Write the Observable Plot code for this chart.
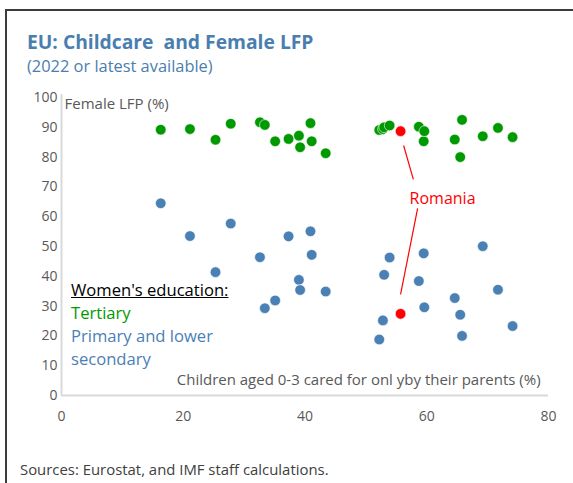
<!DOCTYPE html>
<html>
<head>
<meta charset="utf-8">
<script src="https://cdn.jsdelivr.net/npm/d3@7"></script>
<script src="https://cdn.jsdelivr.net/npm/@observablehq/plot@0.6"></script>
<style>
  body { margin: 0; background: #fff; }
  #frame { position: relative; width: 573px; height: 483px; overflow: hidden; background: #fff;
           font-family: "Open Sans", "Noto Sans", sans-serif; }
  .bt { position: absolute; left: 5px; top: 9px; right: 0; height: 2px; background: #3c3c3c; }
  .bl { position: absolute; left: 5px; top: 9px; bottom: 0; width: 2px; background: #3c3c3c; }
  #title { position: absolute; left: 27px; top: 30px; font-weight: bold; font-size: 19.3px; line-height: 24px;
           color: #4a7eb0; white-space: pre; }
  #subtitle { position: absolute; left: 27px; top: 55px; font-size: 16.4px; line-height: 22px; color: #4a7eb0; }
  #chart { position: absolute; left: 0; top: 80px; }
  #legend { position: absolute; left: 71px; top: 278px; font-size: 16.6px; line-height: 23px; }
  #legend .h { color: #000; text-decoration: underline; }
  #caption { position: absolute; left: 20px; top: 459px; font-size: 14.9px; line-height: 20px; color: #404040; }
</style>
</head>
<body>
<div id="frame">
  <div class="bt"></div><div class="bl"></div>
  <div id="title">EU: Childcare  and Female LFP</div>
  <div id="subtitle">(2022 or latest available)</div>
  <div id="chart"></div>
  <div id="legend"></div>
  <div id="caption">Sources: Eurostat, and IMF staff calculations.</div>
</div>
<script>
// ---- data ----
const childcare = [16.3, 21.1, 25.3, 27.8, 32.6, 33.4, 35.1, 37.3, 39.0, 39.2, 40.9, 41.1, 43.4,
                   52.2, 52.8, 53.0, 53.9, 55.7, 58.7, 59.5, 59.6, 64.6, 65.5, 65.8, 69.2, 71.7, 74.1];
const lfpTertiary = [89.2, 89.4, 85.8, 91.2, 91.7, 90.8, 85.3, 86.1, 87.2, 83.3, 91.4, 85.3, 81.3,
                     89.1, 89.4, 90.0, 90.6, 88.7, 90.2, 85.3, 88.7, 85.9, 80.0, 92.5, 87.0, 89.8, 86.7];
const lfpPrimary = [64.5, 53.5, 41.4, 57.7, 46.4, 29.3, 31.9, 53.4, 38.8, 35.4, 55.1, 47.2, 34.9,
                    18.8, 25.2, 40.5, 46.3, 27.4, 38.4, 47.7, 29.6, 32.7, 27.1, 20.0, 50.1, 35.5, 23.3];
const highlightIndex = 17;           // Romania
const highlightName = "Romania";
const xTicks = [0, 20, 40, 60, 80];
const yTicks = [0, 10, 20, 30, 40, 50, 60, 70, 80, 90, 100];
const legendHeader = "Women's education:";
const seriesNames = ["Tertiary", "Primary and lower\nsecondary"];
const xLabel = "Children aged 0-3 cared for onl yby their parents (%)";
const yLabel = "Female LFP (%)";
// callout placement (data units)
const calloutLabel = {x: 62.6, y: 66.1};
const calloutLines = [
  {x1: 56.2, y1: 83.9, x2: 57.8, y2: 72.5},
  {x1: 58.5, y1: 62.8, x2: 55.7, y2: 33.9}
];

const GREEN = "#009900", BLUE = "#4a80b4", RED = "#ff0000", GREY = "#595959";

const rows = childcare.map((x, i) => ({x, tert: lfpTertiary[i], prim: lfpPrimary[i], hi: i === highlightIndex}));
const normal = rows.filter(d => !d.hi);
const hi = rows.filter(d => d.hi);

const plot = Plot.plot({
  width: 573, height: 360,
  marginLeft: 61, marginRight: 25, marginTop: 17, marginBottom: 45,
  x: {domain: [0, 80]},
  y: {domain: [0, 100]},
  style: {fontFamily: '"Open Sans", "Noto Sans", sans-serif', fontSize: "14px", color: GREY, background: "transparent", overflow: "visible"},
  marks: [
    Plot.ruleY([0], {stroke: "#d9d9d9", strokeWidth: 2}),
    Plot.ruleX([0], {y1: 0, y2: 101, stroke: "#d9d9d9", strokeWidth: 2}),
    Plot.axisY({ticks: yTicks, tickSize: 0, tickPadding: 4, label: null, fontSize: 14}),
    Plot.axisX({ticks: xTicks, tickSize: 0, tickPadding: 16, label: null, fontSize: 14}),
    Plot.text([yLabel], {x: 0, y: 97.6, text: d => d, textAnchor: "start", dx: 3, fontSize: 15, fill: GREY}),
    Plot.text([xLabel], {x: 78.7, y: 5.0, text: d => d, textAnchor: "end", fontSize: 15, fill: GREY}),
    Plot.dot(normal, {x: "x", y: "tert", r: 5.3, fill: GREEN, stroke: "white", strokeWidth: 0.6}),
    Plot.dot(normal, {x: "x", y: "prim", r: 5.3, fill: BLUE, stroke: "white", strokeWidth: 0.6}),
    Plot.dot(hi, {x: "x", y: "tert", r: 5.3, fill: RED, stroke: "white", strokeWidth: 0.6}),
    Plot.dot(hi, {x: "x", y: "prim", r: 5.3, fill: RED, stroke: "white", strokeWidth: 0.6}),
    Plot.link(calloutLines, {x1: "x1", y1: "y1", x2: "x2", y2: "y2", stroke: RED, strokeWidth: 1.2}),
    Plot.text([highlightName], {x: calloutLabel.x, y: calloutLabel.y, text: d => d, fill: RED, fontSize: 16})
  ]
});
document.getElementById("chart").appendChild(plot);

const legend = document.getElementById("legend");
legend.innerHTML =
  `<div class="h">${legendHeader}</div>` +
  `<div style="color:${GREEN}">${seriesNames[0]}</div>` +
  `<div style="color:${BLUE}">${seriesNames[1].replace("\n", "<br>")}</div>`;
</script>
</body>
</html>
